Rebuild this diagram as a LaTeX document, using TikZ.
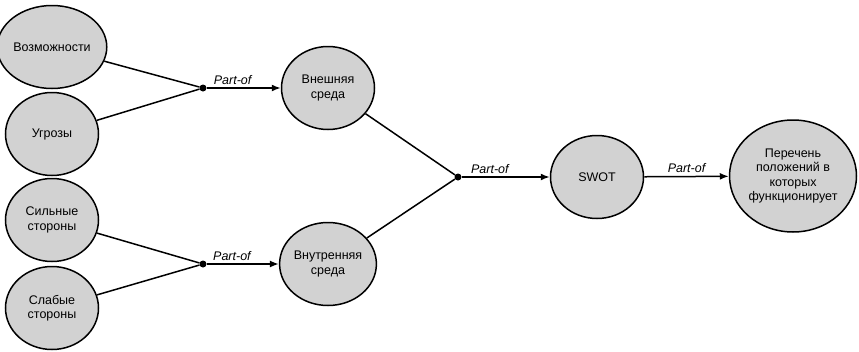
\documentclass[tikz,border=0pt]{standalone}
\usepackage{fontspec}
\setmainfont{Liberation Sans}
\usepackage{tikz}
\usetikzlibrary{shapes.geometric,positioning,arrows.meta}
\tikzstyle{ell} = [ellipse, draw=black, fill=gray!35, line width=1.5pt, minimum width=93pt,
minimum height=83pt, inner sep=0pt, align=center, font=\fontsize{12.5}{14.5}\selectfont]
\tikzstyle{bigell} = [ell, minimum width=127pt, minimum height=112pt]
\tikzstyle{dot} = [circle, fill=black, inner sep=0pt, minimum size=7pt]
\tikzstyle{line} = [line width=1.5pt, -]
\tikzstyle{arrow} = [line width=1.5pt, -{Latex[length=9pt,width=7pt]}]
\tikzstyle{rel} = [above, font=\fontsize{12.5}{14.5}\selectfont\itshape, inner sep=3pt]

\begin{document}
\begin{tikzpicture}[x=1pt, y=-1pt]
        \useasboundingbox (0,0) rectangle (859,351);

        \node[ell] (opp) at (52,47) {Возможности};
        \node[ell] (thr) at (52,134) {Угрозы};
        \node[ell] (str) at (52,220) {Сильные\\стороны};
        \node[ell] (weak) at (52,308) {Слабые\\стороны};

        \node[ell] (ext) at (328,88) {Внешняя\\среда};
        \node[ell] (int) at (328,264) {Внутренняя\\среда};
        \node[ell] (swot) at (597,177) {SWOT};
        \node[bigell] (list) at (793,176) {Перечень\\положений в\\которых\\функционирует};

        % Junctions
        \node[dot] (j1) at (203,88) {};
        \node[dot] (j2) at (203,264) {};
        \node[dot] (j3) at (458,177) {};

        % Lines
        \draw[line] (opp) -- (j1);
        \draw[line] (thr) -- (j1);
        \draw[line] (str) -- (j2);
        \draw[line] (weak) -- (j2);
        \draw[line] (ext) -- (j3);
        \draw[line] (int) -- (j3);

        % Arrows
        \draw[arrow] (j1) -- (ext) node[rel, pos=0.35] {Part-of};
        \draw[arrow] (j2) -- (int) node[rel, pos=0.35] {Part-of};
        \draw[arrow] (j3) -- (swot) node[rel, pos=0.32] {Part-of};
        \draw[arrow] (swot) -- (list) node[rel, midway] {Part-of};

    \end{tikzpicture}
\end{document}
